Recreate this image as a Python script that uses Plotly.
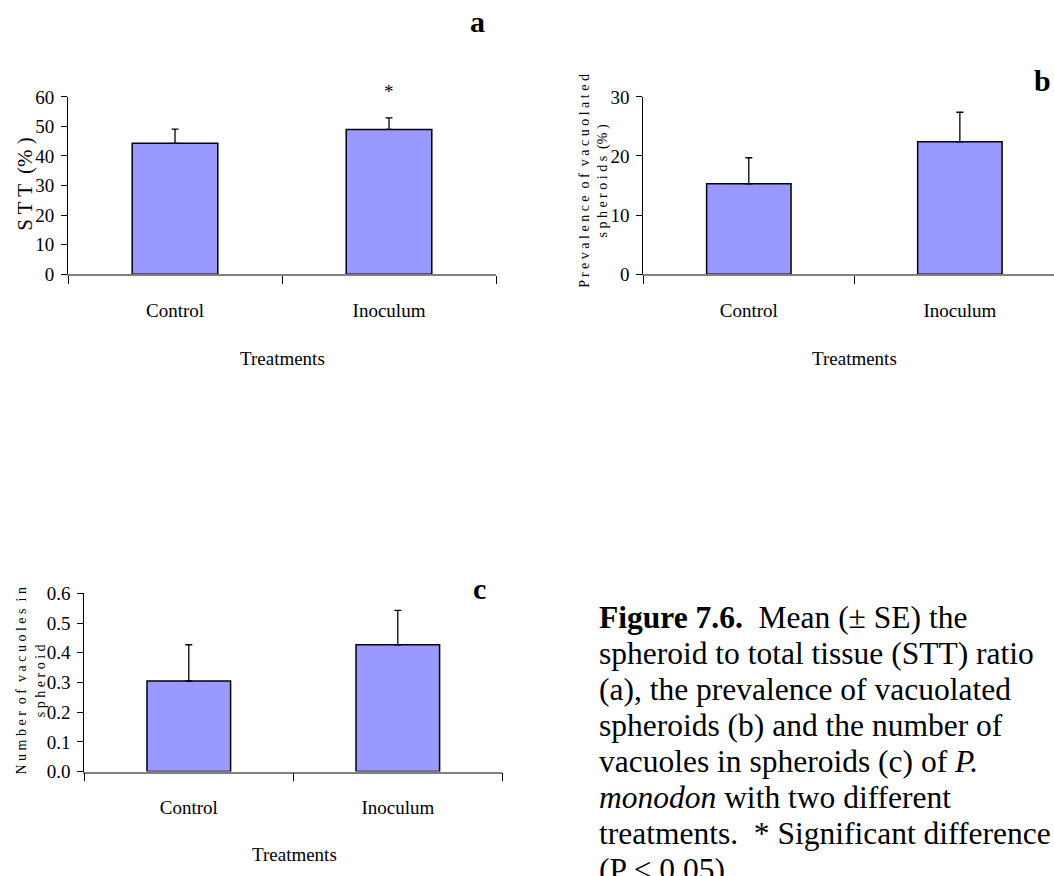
import plotly.graph_objects as go

# Treatment groups shared by all three panels
treatments = ["Control", "Inoculum"]

# (a) spheroid to total tissue ratio, %
stt_mean = [44.3, 49.0]
stt_se = [4.8, 3.9]

# (b) prevalence of vacuolated spheroids, %
prev_mean = [15.3, 22.4]
prev_se = [4.4, 5.0]

# (c) number of vacuoles in spheroid
vac_mean = [0.305, 0.427]
vac_se = [0.122, 0.116]

W, H = 1054, 876
FONT = "Liberation Serif, Times New Roman, serif"
BAR_FILL = "#9999FF"


def px_x(x):
    return x / W


def px_y(y):
    return 1 - y / H


fig = go.Figure()


def add_bars(means, errs, xa, ya):
    fig.add_trace(go.Bar(
        x=treatments, y=means, xaxis=xa, yaxis=ya,
        marker=dict(color=BAR_FILL, line=dict(color="black", width=1.5)),
        error_y=dict(type="data", symmetric=False, array=errs,
                     arrayminus=[0] * len(errs), color="black",
                     thickness=1.3, width=3.5),
        showlegend=False, hoverinfo="skip",
    ))


add_bars(stt_mean, stt_se, "x", "y")
add_bars(prev_mean, prev_se, "x2", "y2")
add_bars(vac_mean, vac_se, "x3", "y3")


def xaxis_style(domain, rng):
    return dict(
        domain=domain, range=rng, type="category",
        showline=True, linecolor="#808080", linewidth=1.5,
        ticks="outside", tickson="boundaries", ticklen=8,
        tickcolor="black", tickwidth=1,
        tickfont=dict(family=FONT, size=19, color="black"),
        ticklabelstandoff=18,
        showgrid=False, zeroline=False, fixedrange=True,
    )


def yaxis_style(domain, rng, dtick, fmt, anchor):
    return dict(
        domain=domain, range=rng, dtick=dtick, tick0=0, tickformat=fmt,
        anchor=anchor,
        showline=True, linecolor="black", linewidth=1,
        ticks="outside", ticklen=6, tickcolor="black", tickwidth=1,
        tickfont=dict(family=FONT, size=19, color="black"),
        ticklabelstandoff=3,
        showgrid=False, zeroline=False, fixedrange=True,
    )


ya_dom = [px_y(270.7), px_y(89)]
yc_dom = [px_y(780.3), px_y(597.7)]

fig.update_layout(
    width=W, height=H,
    margin=dict(l=0, r=0, t=0, b=0),
    paper_bgcolor="white", plot_bgcolor="rgba(0,0,0,0)",
    bargap=0.6,
    font=dict(family=FONT, color="black"),
    xaxis=dict(xaxis_style([px_x(68), px_x(496)], [-0.5, 1.5]), anchor="y"),
    yaxis=yaxis_style(ya_dom, [0, 60], 10, "d", "x"),
    xaxis2=dict(xaxis_style([px_x(643.3), 1.0], [-0.5, 1.446]), anchor="y2"),
    yaxis2=yaxis_style(ya_dom, [0, 30], 10, "d", "x2"),
    xaxis3=dict(xaxis_style([px_x(84.3), px_x(502.3)], [-0.5, 1.5]), anchor="y3"),
    yaxis3=yaxis_style(yc_dom, [0, 0.6], 0.1, ".1f", "x3"),
)

annotations = []


def text_at(x, y, text, size, angle=0, bold=False, xanchor="center",
            yanchor="middle", align="center"):
    annotations.append(dict(
        x=px_x(x), y=px_y(y), xref="paper", yref="paper",
        text=f"<b>{text}</b>" if bold else text,
        showarrow=False, textangle=angle,
        xanchor=xanchor, yanchor=yanchor, align=align,
        font=dict(family=FONT, size=size, color="black"),
    ))


# Panel letters
text_at(477, 12, "a", 30, bold=True)
text_at(1042, 72, "b", 30, bold=True)
text_at(479, 593, "c", 30, bold=True)

# Significance marker above the inoculum bar in (a)
annotations.append(dict(
    x="Inoculum", y=stt_mean[1] + stt_se[1], xref="x", yref="y",
    text="*", showarrow=False, yanchor="bottom", yshift=14,
    font=dict(family=FONT, size=19, color="black"),
))

# X axis titles
text_at(282, 357, "Treatments", 19)
text_at(854, 357, "Treatments", 19)
text_at(294, 865, "Treatments", 19)

# Y axis titles
text_at(25, 178, "S T T  (% )", 21, angle=-90)
text_at(594, 175, "P r e v a l e n c e  o f  v a c u o l a t e d<br>"
        "s p h e r o i d s  (% )", 14, angle=-90)
text_at(31, 688, "N u m b e r  o f  v a c u o l e s  i n<br>"
        "s p h e r o i d", 14, angle=-90)

# Figure caption, one annotation per line
caption = [
    "<b>Figure 7.6.</b>  Mean (± SE) the",
    "spheroid to total tissue (STT) ratio",
    "(a), the prevalence of vacuolated",
    "spheroids (b) and the number of",
    "vacuoles in spheroids (c) of <i>P.</i>",
    "<i>monodon</i> with two different",
    "treatments.  * Significant difference",
    "(P &lt; 0.05).",
]
for i, line in enumerate(caption):
    text_at(597, 622 + 36.9 * i, line, 31.5, xanchor="left", align="left")

fig.update_layout(annotations=annotations)

fig.write_html("out.html")
